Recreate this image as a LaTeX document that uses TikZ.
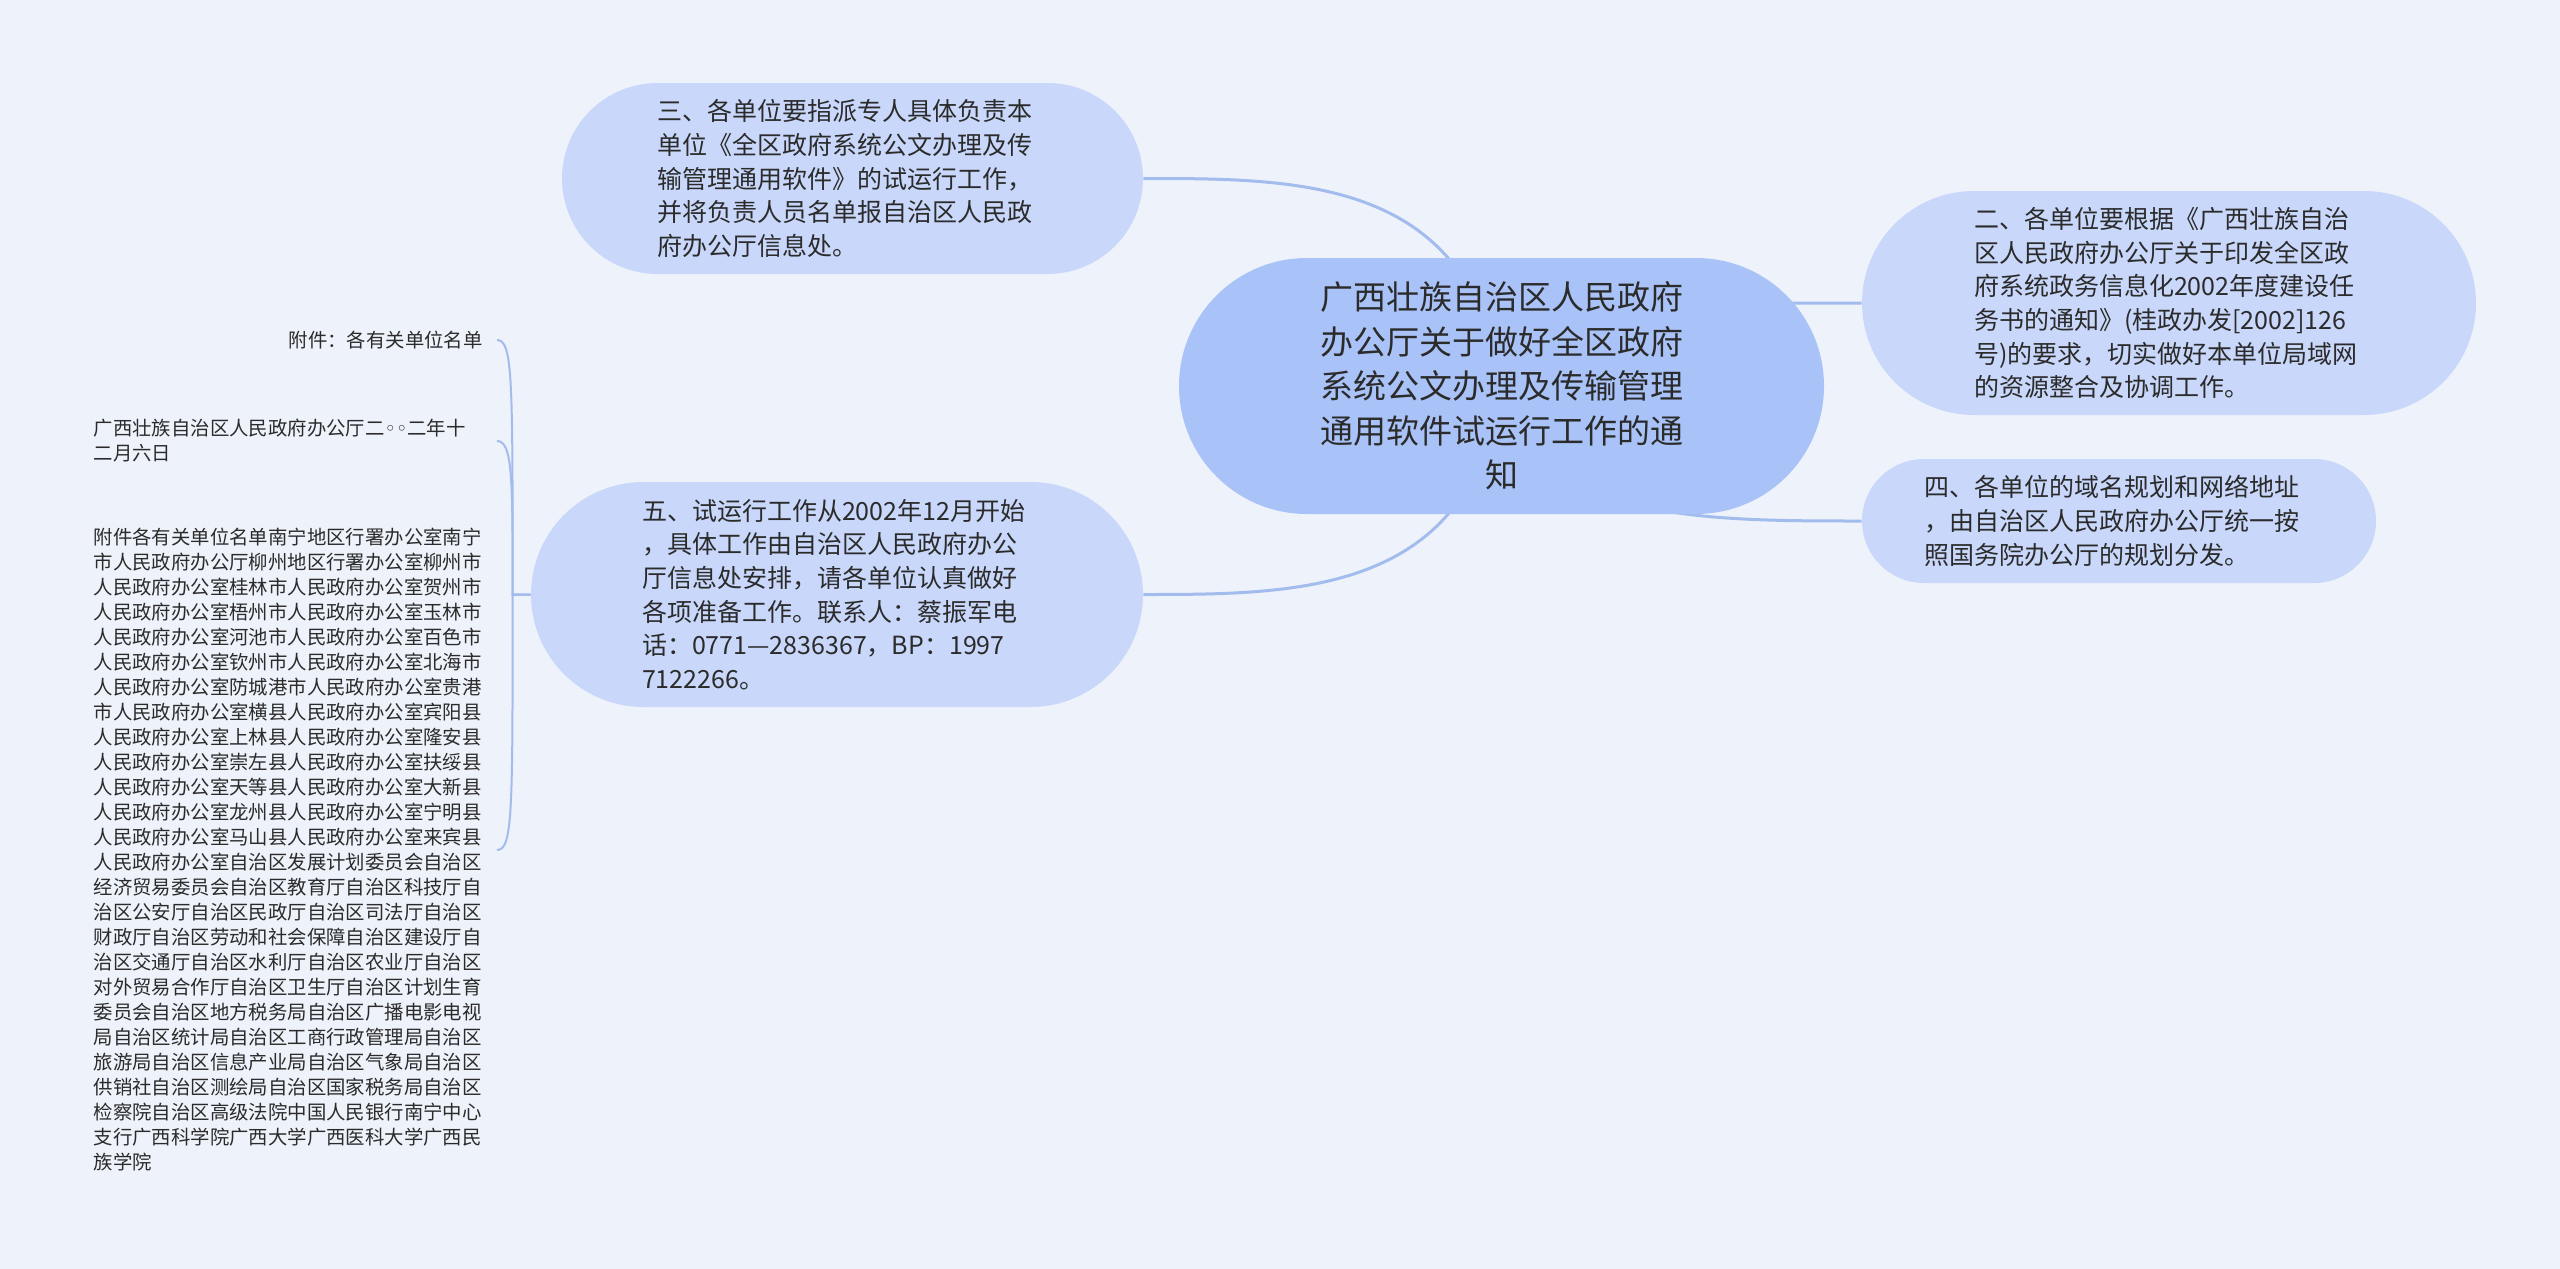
\documentclass[tikz,border=0pt]{standalone}
\usepackage{fontspec}
\setmainfont{Noto Sans CJK SC}
\newfontfamily\dejavu{DejaVu Sans}
\usetikzlibrary{shapes.misc,backgrounds}
\definecolor{bgc}{HTML}{EEF2FA}
\definecolor{rootc}{HTML}{A9C3F8}
\definecolor{childc}{HTML}{C9D8FA}
\definecolor{linec}{HTML}{A3BCEE}
\definecolor{txtc}{HTML}{2B2B2B}
\begin{document}
\begin{tikzpicture}[x=0.5pt,y=-0.5pt,
  conn/.style={draw=linec, line width=1.5pt},
  lconn/.style={draw=linec, line width=1pt},
  topic/.style={rounded rectangle, fill=childc, text=txtc, inner xsep=0pt, inner ysep=0pt,
    text width=195pt, align=left, font=\fontsize{12.5}{16.85}\selectfont},
  root/.style={rounded rectangle, fill=rootc, text=txtc, inner xsep=0pt, inner ysep=0pt,
    text width=195pt, align=center, font=\fontsize{16.5}{22.3}\selectfont,
    minimum height=128pt, minimum width=322.5pt},
  leaf/.style={text=txtc, inner xsep=7pt, inner ysep=0pt, font=\fontsize{9.7}{12.5}\selectfont}
]
\useasboundingbox (0,0) rectangle (2560,1269);
\begin{scope}[on background layer]
  \fill[bgc] (0,0) rectangle (2560,1269);
\end{scope}

\node[root] (c) at (1501.5,386) {广西壮族自治区人民政府\\办公厅关于做好全区政府\\系统公文办理及传输管理\\通用软件试运行工作的通\\知};

\node[topic, minimum height=95.5pt, minimum width=290.5pt] (p3) at (852.5,178.5) {三、各单位要指派专人具体负责本\\单位《全区政府系统公文办理及传\\输管理通用软件》的试运行工作，\\并将负责人员名单报自治区人民政\\府办公厅信息处。};

\node[topic, minimum height=112.5pt, minimum width=306pt] (p5) at (837,594.5) {五、试运行工作从2002年12月开始\\，具体工作由自治区人民政府办公\\厅信息处安排，请各单位认真做好\\各项准备工作。联系人：蔡振军电\\话：0771—2836367，BP：1997\\7122266。};

\node[topic, minimum height=112pt, minimum width=307pt] (p2) at (2169,303) {二、各单位要根据《广西壮族自治\\区人民政府办公厅关于印发全区政\\府系统政务信息化2002年度建设任\\务书的通知》(桂政办发[2002]126\\号)的要求，切实做好本单位局域网\\的资源整合及协调工作。};

\node[topic, minimum height=62pt, minimum width=257pt] (p4) at (2119,521) {四、各单位的域名规划和网络地址\\，由自治区人民政府办公厅统一按\\照国务院办公厅的规划分发。};

\node[leaf, anchor=east, align=right] (att) at (497,340) {附件：各有关单位名单};
\node[leaf, anchor=east, align=left, text width=194.5pt] (date) at (497,441) {广西壮族自治区人民政府办公厅二{\dejavu ◦◦}二年十\\二月六日};
\node[leaf, anchor=east, align=left, text width=194.5pt] (list) at (497,850) {附件各有关单位名单南宁地区行署办公室南宁\\市人民政府办公厅柳州地区行署办公室柳州市\\人民政府办公室桂林市人民政府办公室贺州市\\人民政府办公室梧州市人民政府办公室玉林市\\人民政府办公室河池市人民政府办公室百色市\\人民政府办公室钦州市人民政府办公室北海市\\人民政府办公室防城港市人民政府办公室贵港\\市人民政府办公室横县人民政府办公室宾阳县\\人民政府办公室上林县人民政府办公室隆安县\\人民政府办公室崇左县人民政府办公室扶绥县\\人民政府办公室天等县人民政府办公室大新县\\人民政府办公室龙州县人民政府办公室宁明县\\人民政府办公室马山县人民政府办公室来宾县\\人民政府办公室自治区发展计划委员会自治区\\经济贸易委员会自治区教育厅自治区科技厅自\\治区公安厅自治区民政厅自治区司法厅自治区\\财政厅自治区劳动和社会保障自治区建设厅自\\治区交通厅自治区水利厅自治区农业厅自治区\\对外贸易合作厅自治区卫生厅自治区计划生育\\委员会自治区地方税务局自治区广播电影电视\\局自治区统计局自治区工商行政管理局自治区\\旅游局自治区信息产业局自治区气象局自治区\\供销社自治区测绘局自治区国家税务局自治区\\检察院自治区高级法院中国人民银行南宁中心\\支行广西科学院广西大学广西医科大学广西民\\族学院};

\coordinate (j5) at ([xshift=-9pt]p5.west);

\begin{scope}[on background layer]
  \draw[conn] (c.center) .. controls +(-31,-208) and +(157,0) .. (p3.east);
  \draw[conn] (c.center) .. controls +(-31,208) and +(157,0) .. (p5.east);
  \draw[conn] (c.center) .. controls +(31,-83) and +(-162,0) .. (p2.west);
  \draw[conn] (c.center) .. controls +(31,135) and +(-162,0) .. (p4.west);
  \draw[lconn] (p5.west) -- (j5) .. controls +(0,-214) and +(16,0) .. (att.east);
  \draw[lconn] (p5.west) -- (j5) .. controls +(0,-113) and +(16,0) .. (date.east);
  \draw[lconn] (p5.west) -- (j5) .. controls +(0,216) and +(16,0) .. (list.east);
\end{scope}
\end{tikzpicture}
\end{document}
